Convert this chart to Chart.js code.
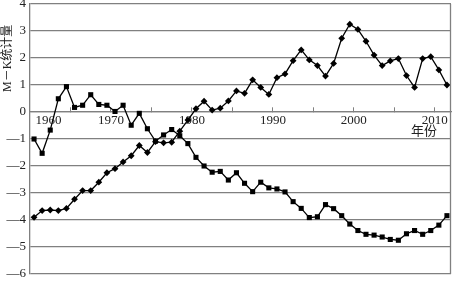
<!DOCTYPE html>
<html><head><meta charset="utf-8">
<script src="https://cdn.jsdelivr.net/npm/chart.js@4/dist/chart.umd.min.js"></script>
<style>html,body{margin:0;padding:0;background:#fff}canvas{display:block}</style>
</head><body>
<canvas id="c" width="455" height="281"></canvas>
<script>
const years = [1960,1961,1962,1963,1964,1965,1966,1967,1968,1969,1970,1971,1972,1973,1974,1975,1976,1977,1978,1979,1980,1981,1982,1983,1984,1985,1986,1987,1988,1989,1990,1991,1992,1993,1994,1995,1996,1997,1998,1999,2000,2001,2002,2003,2004,2005,2006,2007,2008,2009,2010,2011];
const ufValues = [-1.0,-1.53,-0.67,0.49,0.94,0.17,0.25,0.64,0.28,0.25,0.02,0.25,-0.49,-0.05,-0.62,-1.08,-0.85,-0.65,-0.88,-1.17,-1.68,-2.0,-2.23,-2.2,-2.52,-2.25,-2.64,-2.95,-2.6,-2.81,-2.85,-2.96,-3.32,-3.57,-3.91,-3.88,-3.43,-3.58,-3.84,-4.15,-4.39,-4.53,-4.56,-4.63,-4.72,-4.75,-4.51,-4.39,-4.53,-4.39,-4.19,-3.84];
const ubValues = [-3.9,-3.65,-3.63,-3.65,-3.57,-3.23,-2.91,-2.91,-2.6,-2.25,-2.1,-1.85,-1.62,-1.24,-1.5,-1.1,-1.14,-1.12,-0.71,-0.3,0.12,0.4,0.07,0.14,0.41,0.78,0.69,1.19,0.91,0.65,1.27,1.41,1.9,2.3,1.93,1.72,1.33,1.8,2.73,3.25,3.06,2.62,2.11,1.72,1.89,1.98,1.35,0.91,1.98,2.05,1.56,1.0];
const xTickValues = [1961.8,1964.5,1969.5,1974.5,1979.5,1984.5,1989.5,1994.5,1999.5,2004.5,2009.5];
const xTickLabels = ['1960','','1970','','1980','','1990','','2000','','2010'];
const yTickValues = [-6,-5,-4,-3,-2,-1,0,1,2,3,4];
const yTickLabels = ['—6','—5','—4','—3','—2','—1','0','1','2','3','4'];
const yTitle = 'M－K统计量';
const xTitle = '年份';

const FONT = '"Liberation Serif","Noto Sans CJK SC",serif';
const GRID = '#808080';

const extras = {
  id: 'extras',
  afterDraw(chart) {
    const {ctx, chartArea} = chart;
    const ys = chart.scales.y;
    ctx.save();
    ctx.strokeStyle = GRID; ctx.lineWidth = 1.3;
    ctx.beginPath();
    ctx.moveTo(Math.round(chartArea.right) - 0.5, chartArea.top);
    ctx.lineTo(Math.round(chartArea.right) - 0.5, chartArea.bottom);
    ctx.stroke();
    ctx.fillStyle = '#222';
    ctx.font = '13px ' + FONT;
    ctx.textAlign = 'center'; ctx.textBaseline = 'middle';
    ctx.fillText(xTitle, chartArea.right - 27, ys.getPixelForValue(0) + 19.5);
    ctx.font = '12px ' + FONT;
    ctx.textAlign = 'left';
    ctx.translate(8, chartArea.top + 88);
    ctx.rotate(-Math.PI / 2);
    ctx.fillText(yTitle, 0, 0);
    ctx.restore();
  }
};

new Chart(document.getElementById('c'), {
  type: 'line',
  data: {
    datasets: [
      { label: 'UF', data: years.map((y, i) => ({x: y, y: ufValues[i]})),
        borderColor: '#000', backgroundColor: '#000', borderWidth: 1.3,
        pointStyle: 'rect', pointRadius: 3.6, pointBorderWidth: 0, tension: 0 },
      { label: 'UB', data: years.map((y, i) => ({x: y, y: ubValues[i]})),
        borderColor: '#000', backgroundColor: '#000', borderWidth: 1.3,
        pointStyle: 'rectRot', pointRadius: 3.4, pointBorderWidth: 0, tension: 0 }
    ]
  },
  options: {
    responsive: false, animation: false,
    layout: { padding: { top: 4, right: 1, bottom: 7, left: 0 } },
    plugins: { legend: { display: false }, tooltip: { enabled: false } },
    scales: {
      x: {
        type: 'linear', min: 1959.5, max: 2011.5,
        position: { y: 0 },
        afterBuildTicks: s => { s.ticks = xTickValues.map(v => ({value: v})); },
        ticks: {
          autoSkip: false, maxRotation: 0, padding: 6,
          font: { family: FONT, size: 13 }, color: '#222',
          callback: (v, i) => xTickLabels[i]
        },
        grid: { drawOnChartArea: false, drawTicks: true, tickLength: -5,
          tickColor: c => c.index === 0 ? 'rgba(0,0,0,0)' : GRID },
        border: { color: GRID, width: 1.3 }
      },
      y: {
        min: -6, max: 4,
        afterBuildTicks: s => { s.ticks = yTickValues.map(v => ({value: v})); },
        afterFit: s => { s.width = 30; s.paddingTop = 0; s.paddingBottom = 0; },
        ticks: { padding: 4, font: { family: FONT, size: 13 }, color: '#222',
          callback: (v, i) => yTickLabels[i] },
        grid: { color: GRID, lineWidth: 1.3, drawTicks: false },
        border: { color: GRID, width: 1.3 }
      }
    }
  },
  plugins: [extras]
});
</script>
</body></html>
